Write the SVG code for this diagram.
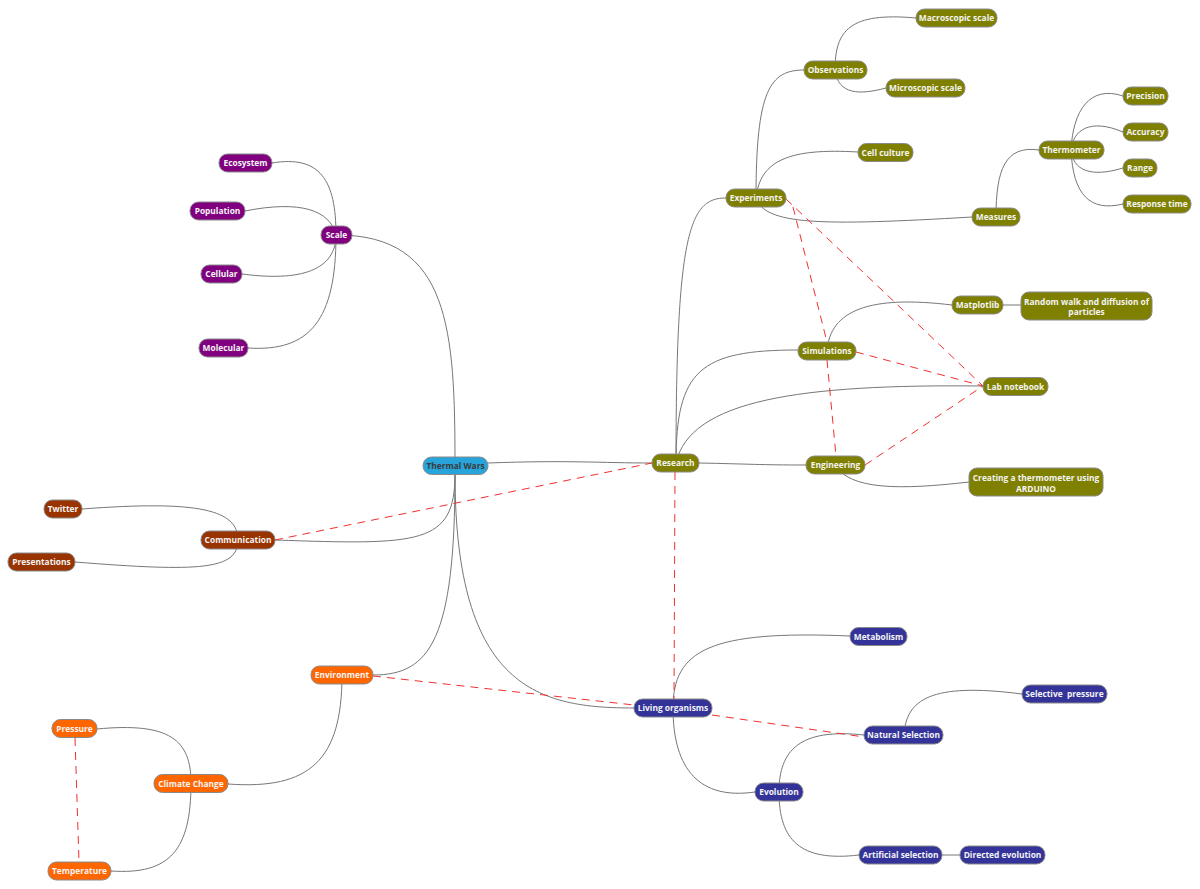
<svg xmlns="http://www.w3.org/2000/svg" width="1200" height="889" viewBox="0 0 1200 889">
<style>
.n rect{stroke:#8a8a8a;stroke-width:1}
.n text{font-family:"Open Sans","Noto Sans","DejaVu Sans",sans-serif;font-weight:bold;font-size:8.4px;fill:#f4f4f4;text-anchor:middle}
.root rect{fill:#27a4da}
.root text{fill:#3a3a3a}
.ol rect{fill:#808000}
.pu rect{fill:#800080}
.br rect{fill:#993300}
.or rect{fill:#ff6600}
.bl rect{fill:#333399}
#edges path{fill:none;stroke:#777;stroke-width:1}
#rels line{stroke:#f03030;stroke-width:1;stroke-dasharray:8,6}
</style>
<rect width="1200" height="889" fill="#fff"/>
<g id="edges">
<path d="M337,235 C450,235 455,330 455,466"/>
<path d="M455,474 C455,545 420,545 275,540"/>
<path d="M455,474 C455,640 430,675 373,675"/>
<path d="M455,474 C455,690 540,708 634,708"/>
<path d="M488,463 C570,460 600,463 652,463"/>
<path d="M676,463 C676,230 690,198 726,198"/>
<path d="M676,463 C676,370 700,350 798,350"/>
<path d="M676,463 C690,400 800,384 983,386"/>
<path d="M699,463 C750,464 760,465 806,465"/>
<path d="M756,198 C756,90 770,70 804,70"/>
<path d="M756,198 C760,160 790,148 858,152"/>
<path d="M756,198 C765,225 820,226 972,217"/>
<path d="M835,70 C835,30 850,12 916,18"/>
<path d="M835,70 C838,95 860,95 886,88"/>
<path d="M996,217 C996,170 1005,145 1039,150"/>
<path d="M1071,150 C1073,110 1090,85 1123,96"/>
<path d="M1071,150 C1073,130 1090,118 1123,132"/>
<path d="M1071,150 C1073,170 1090,178 1123,168"/>
<path d="M1071,150 C1073,195 1090,212 1123,204"/>
<path d="M827,351 C830,310 870,295 952,305"/>
<path d="M1003,305 L1021,305"/>
<path d="M835,465 C850,490 900,490 969,482"/>
<path d="M673,708 C673,650 710,630 850,636"/>
<path d="M673,708 C673,770 700,800 755,792"/>
<path d="M779,792 C779,750 800,728 864,735"/>
<path d="M779,792 C779,840 800,862 859,855"/>
<path d="M904,735 C906,700 930,682 1022,694"/>
<path d="M942,855 L960,855"/>
<path d="M336,235 C336,180 320,155 272,163"/>
<path d="M336,235 C330,210 300,200 245,211"/>
<path d="M336,235 C336,265 310,283 242,274"/>
<path d="M336,235 C336,320 310,352 248,348"/>
<path d="M238,540 C238,510 200,500 82,509"/>
<path d="M238,540 C238,570 200,572 75,562"/>
<path d="M342,675 C342,760 310,790 228,784"/>
<path d="M191,783 C191,740 170,722 97,729"/>
<path d="M191,783 C191,850 170,875 111,871"/>
</g>
<g id="rels">
<line x1="275" y1="540" x2="652" y2="463"/>
<line x1="373" y1="676" x2="634" y2="705"/>
<line x1="712" y1="715" x2="864" y2="737"/>
<line x1="675" y1="472" x2="674" y2="699"/>
<line x1="786" y1="199" x2="983" y2="386"/>
<line x1="793" y1="207" x2="827" y2="342"/>
<line x1="827" y1="360" x2="836" y2="456"/>
<line x1="856" y1="352" x2="983" y2="386"/>
<line x1="865" y1="465" x2="983" y2="386"/>
<line x1="75" y1="738" x2="79" y2="862"/>
</g>
<g id="thermal-wars" class="n root"><rect x="423" y="457" width="65" height="17.5" rx="8.5"/><text x="455.5" y="468.5">Thermal Wars</text></g>
<g id="research" class="n ol"><rect x="652" y="454" width="47" height="18" rx="8.5"/><text x="675.5" y="466">Research</text></g>
<g id="experiments" class="n ol"><rect x="726" y="189" width="60" height="18" rx="8.5"/><text x="756" y="201">Experiments</text></g>
<g id="observations" class="n ol"><rect x="804" y="61" width="63" height="18" rx="8.5"/><text x="835.5" y="73">Observations</text></g>
<g id="macroscopic" class="n ol"><rect x="916" y="9" width="81" height="18" rx="8.5"/><text x="956.5" y="21">Macroscopic scale</text></g>
<g id="microscopic" class="n ol"><rect x="886" y="79" width="79" height="18" rx="8.5"/><text x="925.5" y="91">Microscopic scale</text></g>
<g id="cell-culture" class="n ol"><rect x="858" y="143.5" width="55" height="18" rx="8.5"/><text x="885.5" y="155.5">Cell culture</text></g>
<g id="measures" class="n ol"><rect x="972" y="208" width="48" height="18" rx="8.5"/><text x="996" y="220">Measures</text></g>
<g id="thermometer" class="n ol"><rect x="1039" y="141" width="65" height="18" rx="8.5"/><text x="1071.5" y="153">Thermometer</text></g>
<g id="precision" class="n ol"><rect x="1123" y="87" width="45" height="18" rx="8.5"/><text x="1145.5" y="99">Precision</text></g>
<g id="accuracy" class="n ol"><rect x="1123" y="123" width="45" height="18" rx="8.5"/><text x="1145.5" y="135">Accuracy</text></g>
<g id="range" class="n ol"><rect x="1123" y="159" width="34" height="18" rx="8.5"/><text x="1140" y="171">Range</text></g>
<g id="response-time" class="n ol"><rect x="1123" y="195" width="68" height="18" rx="8.5"/><text x="1157" y="207">Response time</text></g>
<g id="simulations" class="n ol"><rect x="798" y="342" width="58" height="18" rx="8.5"/><text x="827" y="354">Simulations</text></g>
<g id="matplotlib" class="n ol"><rect x="952" y="296" width="51" height="18" rx="8.5"/><text x="977.5" y="308">Matplotlib</text></g>
<g id="random-walk" class="n ol"><rect x="1021" y="292" width="131" height="28" rx="8"/><text x="1086.5" y="304.5">Random walk and diffusion of</text><text x="1086.5" y="315">particles</text></g>
<g id="lab-notebook" class="n ol"><rect x="983" y="377.5" width="65" height="18" rx="8.5"/><text x="1015.5" y="389.5">Lab notebook</text></g>
<g id="engineering" class="n ol"><rect x="806" y="456" width="59" height="18" rx="8.5"/><text x="835.5" y="468">Engineering</text></g>
<g id="arduino" class="n ol"><rect x="969" y="468" width="134" height="28" rx="8"/><text x="1036" y="481">Creating a thermometer using</text><text x="1036" y="491.5">ARDUINO</text></g>
<g id="scale" class="n pu"><rect x="321" y="226" width="31" height="18" rx="8.5"/><text x="336.5" y="238">Scale</text></g>
<g id="ecosystem" class="n pu"><rect x="219" y="154" width="53" height="18" rx="8.5"/><text x="245.5" y="166">Ecosystem</text></g>
<g id="population" class="n pu"><rect x="190" y="202" width="55" height="18" rx="8.5"/><text x="217.5" y="214">Population</text></g>
<g id="cellular" class="n pu"><rect x="201" y="265" width="41" height="18" rx="8.5"/><text x="221.5" y="277">Cellular</text></g>
<g id="molecular" class="n pu"><rect x="199" y="339" width="49" height="18" rx="8.5"/><text x="223.5" y="351">Molecular</text></g>
<g id="communication" class="n br"><rect x="201" y="531" width="74" height="18" rx="8.5"/><text x="238" y="543">Communication</text></g>
<g id="twitter" class="n br"><rect x="44" y="500" width="38" height="18" rx="8.5"/><text x="63" y="512">Twitter</text></g>
<g id="presentations" class="n br"><rect x="8" y="553" width="67" height="18" rx="8.5"/><text x="41.5" y="565">Presentations</text></g>
<g id="environment" class="n or"><rect x="311" y="666" width="62" height="18" rx="8.5"/><text x="342" y="678">Environment</text></g>
<g id="climate-change" class="n or"><rect x="154" y="774.5" width="74" height="18" rx="8.5"/><text x="191" y="786.5">Climate Change</text></g>
<g id="pressure" class="n or"><rect x="52" y="719.5" width="45" height="18" rx="8.5"/><text x="74.5" y="731.5">Pressure</text></g>
<g id="temperature" class="n or"><rect x="48" y="862" width="63" height="18" rx="8.5"/><text x="79.5" y="874">Temperature</text></g>
<g id="living-organisms" class="n bl"><rect x="634" y="699" width="78" height="18" rx="8.5"/><text x="673" y="711">Living organisms</text></g>
<g id="metabolism" class="n bl"><rect x="850" y="627.5" width="57" height="18" rx="8.5"/><text x="878.5" y="639.5">Metabolism</text></g>
<g id="evolution" class="n bl"><rect x="755" y="783" width="48" height="18" rx="8.5"/><text x="779" y="795">Evolution</text></g>
<g id="natural-selection" class="n bl"><rect x="864" y="726" width="79" height="18" rx="8.5"/><text x="903.5" y="738">Natural Selection</text></g>
<g id="selective-pressure" class="n bl"><rect x="1022" y="685" width="85" height="18" rx="8.5"/><text x="1064.5" y="697" xml:space="preserve">Selective  pressure</text></g>
<g id="artificial-selection" class="n bl"><rect x="859" y="846" width="83" height="18" rx="8.5"/><text x="900.5" y="858">Artificial selection</text></g>
<g id="directed-evolution" class="n bl"><rect x="960" y="846" width="85" height="18" rx="8.5"/><text x="1002.5" y="858">Directed evolution</text></g>
</svg>
